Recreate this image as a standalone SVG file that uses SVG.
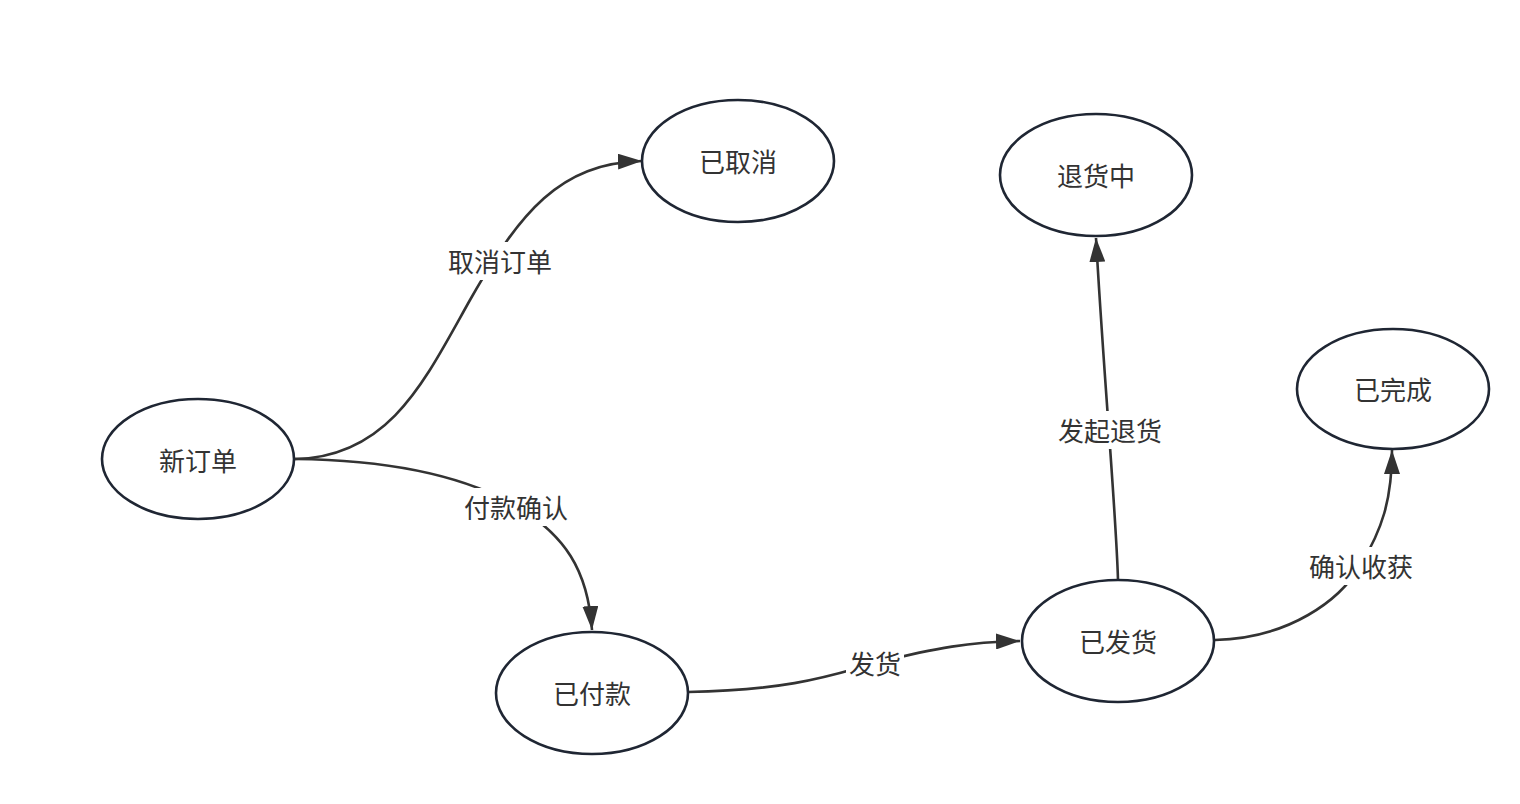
<svg xmlns="http://www.w3.org/2000/svg" width="1520" height="804" viewBox="0 0 1520 804">
<defs>
<marker id="arrow" viewBox="0 0 24 16" refX="24" refY="8" markerWidth="24" markerHeight="16" markerUnits="userSpaceOnUse" orient="auto">
<path d="M0,0 L24,8 L0,16 Z" fill="#333333"/>
</marker>
<style>
.node ellipse{fill:#ffffff;stroke:#1f2633;stroke-width:2.6}
.node text{font-family:"Noto Sans CJK SC","Noto Sans",sans-serif;font-size:26px;fill:#333333;text-anchor:middle;dominant-baseline:central}
.edge{fill:none;stroke:#333333;stroke-width:2.6;marker-end:url(#arrow)}
.lblbg{fill:#ffffff}
.lbl{font-family:"Noto Sans CJK SC","Noto Sans",sans-serif;font-size:26px;fill:#333333;text-anchor:middle;dominant-baseline:central}
</style>
</defs>
<rect width="1520" height="804" fill="#ffffff"/>
<g id="connectors">
<path class="edge" d="M295,459 C390,457 425,380 470,300 C520,212 560,163 642,161"/>
<path class="edge" d="M295,459 C400,460 470,480 515,505 C565,535 588,570 592,630"/>
<path class="edge" d="M688,692 C800,690 840,672 880,662 C935,648 970,642 1020,641"/>
<path class="edge" d="M1118,580 C1116,510 1104,380 1096,238"/>
<path class="edge" d="M1215,640 C1290,638 1340,600 1360,566 C1382,530 1392,500 1392,450"/>
<g id="edge-labels">
<rect class="lblbg" x="444" y="242" width="112" height="38"/>
<text class="lbl" x="500" y="260">取消订单</text>
<rect class="lblbg" x="460" y="488" width="112" height="38"/>
<text class="lbl" x="516" y="506">付款确认</text>
<rect class="lblbg" x="846" y="644" width="58" height="38"/>
<text class="lbl" x="875" y="662">发货</text>
<rect class="lblbg" x="1054" y="411" width="112" height="38"/>
<text class="lbl" x="1110" y="429">发起退货</text>
<rect class="lblbg" x="1305" y="547" width="112" height="38"/>
<text class="lbl" x="1361" y="565">确认收获</text>
</g>
</g>
<g id="node-new" class="node"><ellipse cx="198" cy="459" rx="96" ry="60"/><text x="198" y="459">新订单</text></g>
<g id="node-cancelled" class="node"><ellipse cx="738" cy="161" rx="96" ry="61"/><text x="738" y="160">已取消</text></g>
<g id="node-paid" class="node"><ellipse cx="592" cy="693" rx="96" ry="61"/><text x="592" y="692">已付款</text></g>
<g id="node-returning" class="node"><ellipse cx="1096" cy="175" rx="96" ry="61"/><text x="1096" y="174">退货中</text></g>
<g id="node-shipped" class="node"><ellipse cx="1118" cy="641" rx="96" ry="61"/><text x="1118" y="640">已发货</text></g>
<g id="node-done" class="node"><ellipse cx="1393" cy="389" rx="96" ry="60"/><text x="1393" y="388">已完成</text></g>
</svg>
